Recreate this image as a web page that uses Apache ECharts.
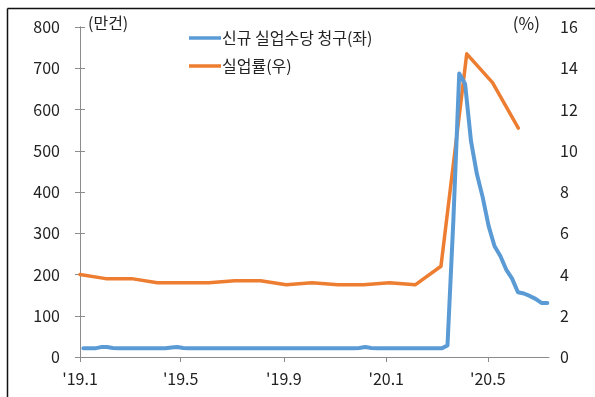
<!DOCTYPE html>
<html>
<head>
<meta charset="utf-8">
<script src="https://cdn.jsdelivr.net/npm/echarts@6/dist/echarts.min.js"></script>
<style>
  html, body { margin: 0; padding: 0; background: #fff; }
  #chart { width: 595px; height: 397px; }
</style>
</head>
<body>
<div id="chart"></div>
<script>
// 신규 실업수당 청구 (만건), 2019.1.5 주부터 매주 (x = 2019.1.1 이후 일수)
const claimFirstDay = 4;
const claims = [
  21, 21, 21, 24,
  24, 22, 21, 21,
  21, 21, 21, 21, 21,
  21, 21, 23, 24,
  22, 21, 21, 21,
  21, 21, 21, 21, 21,
  21, 21, 21, 21,
  21, 21, 21, 21, 21,
  21, 21, 21, 21,
  21, 21, 21, 21,
  21, 21, 21, 21, 22,
  24, 22, 21, 21,
  21, 21, 21, 21,
  21, 21, 21, 21, 21,
  21, 28, 331, 687,
  662, 524, 444, 387,
  318, 269, 245, 212, 190,
  157, 154, 148, 141,
  131, 131
];
// 실업률 (%), 2019.1 ~ 2020.6 월별
const unempRate = [
  4.0, 3.8, 3.8, 3.6, 3.6, 3.6, 3.7, 3.7, 3.5, 3.6, 3.5, 3.5,
  3.6, 3.5, 4.4, 14.7, 13.3, 11.1
];
// x축 눈금 (2019.1.1 이후 일수)
const xTickDays = [0, 120, 243, 365, 486];
const xTickLabels = ["'19.1", "'19.5", "'19.9", "'20.1", "'20.5"];

const font = '"Noto Sans CJK KR", "Noto Sans", sans-serif';
const axisGray = '#8c8c8c';
const textColor = '#222';

const chart = echarts.init(document.getElementById('chart'));

const claimData = claims.map((v, i) => [claimFirstDay + i * 7, v]);
const rateData = unempRate.map((v, i) => [i, v]);

const option = {
  animation: false,
  textStyle: { fontFamily: font },
  grid: { left: 80, right: 46, top: 27, bottom: 40 },
  legend: {
    orient: 'vertical',
    left: 184,
    top: 25,
    icon: 'rect',
    itemWidth: 32,
    itemHeight: 3.5,
    itemGap: 12,
    textStyle: { fontSize: 16, color: textColor, fontFamily: font, padding: [0, 0, 0, -4] },
    data: ['신규 실업수당 청구(좌)', '실업률(우)']
  },
  xAxis: [
    {
      type: 'value',
      min: 0,
      max: 559,
      axisLine: { onZero: false, lineStyle: { color: axisGray, width: 1 } },
      axisTick: { show: true, length: 5, lineStyle: { color: axisGray }, customValues: xTickDays },
      axisLabel: {
        customValues: xTickDays,
        formatter: (val) => {
          const k = xTickDays.indexOf(val);
          return k >= 0 ? xTickLabels[k] : '';
        },
        fontSize: 16, color: textColor, margin: 14, fontFamily: font
      },
      splitLine: { show: false }
    },
    {
      type: 'value',
      min: 0,
      max: 18.19,
      show: false
    }
  ],
  yAxis: [
    {
      type: 'value',
      min: 0, max: 800, interval: 100,
      axisLine: { show: true, lineStyle: { color: axisGray, width: 1 } },
      axisTick: { show: true, length: 5, lineStyle: { color: axisGray } },
      axisLabel: { fontSize: 16, color: textColor, margin: 20, fontFamily: font },
      splitLine: { show: false }
    },
    {
      type: 'value',
      position: 'right',
      min: 0, max: 16, interval: 2,
      axisLine: { show: true, lineStyle: { color: axisGray, width: 1 } },
      axisTick: { show: true, length: 5, lineStyle: { color: axisGray } },
      axisLabel: { fontSize: 16, color: textColor, margin: 11, fontFamily: font },
      splitLine: { show: false }
    }
  ],
  series: [
    {
      name: '신규 실업수당 청구(좌)',
      type: 'line',
      xAxisIndex: 0,
      yAxisIndex: 0,
      data: claimData,
      showSymbol: false,
      lineStyle: { color: '#5B9BD5', width: 4, join: 'round', cap: 'round' },
      itemStyle: { color: '#5B9BD5' },
      z: 3
    },
    {
      name: '실업률(우)',
      type: 'line',
      xAxisIndex: 1,
      yAxisIndex: 1,
      data: rateData,
      showSymbol: false,
      lineStyle: { color: '#ED7D31', width: 3.5, join: 'round', cap: 'round' },
      itemStyle: { color: '#ED7D31' },
      z: 2
    }
  ],
  graphic: [
    { type: 'line', shape: { x1: 7.5, y1: 8.5, x2: 595, y2: 8.5 }, style: { stroke: '#111', lineWidth: 1.5 } },
    { type: 'line', shape: { x1: 7.5, y1: 8.5, x2: 7.5, y2: 397 }, style: { stroke: '#111', lineWidth: 1.5 } },
    { type: 'text', left: 88, top: 15, style: { text: '(만건)', fontSize: 16, fill: textColor, fontFamily: font } },
    { type: 'text', right: 55, top: 15, style: { text: '(%)', fontSize: 17, fill: textColor, fontFamily: font } }
  ]
};

chart.setOption(option);
</script>
</body>
</html>
